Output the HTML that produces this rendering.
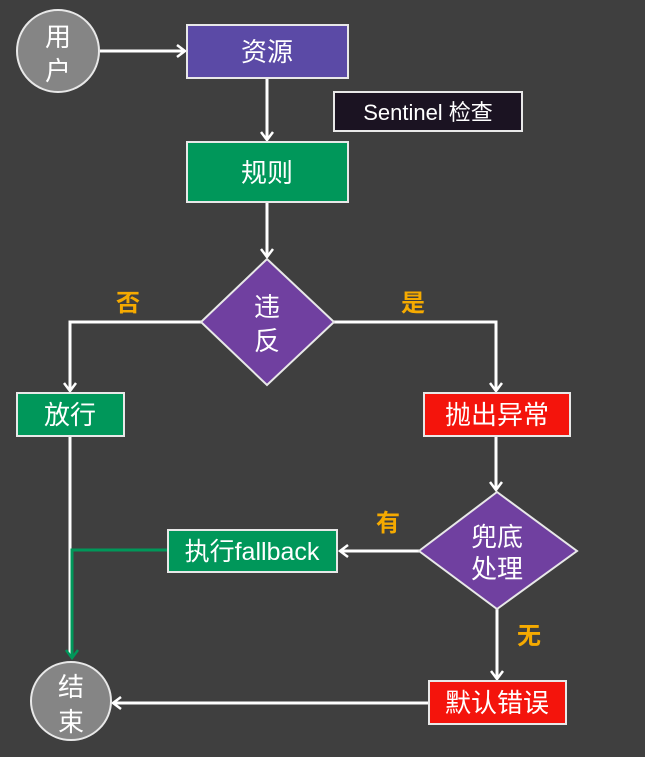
<!DOCTYPE html>
<html><head><meta charset="utf-8"><style>
body{margin:0;background:#3f3f3f;width:645px;height:757px;overflow:hidden}
svg{display:block}
text{font-family:"Liberation Sans","Noto Sans CJK SC",sans-serif;fill:#fff}
</style></head><body>
<svg width="645" height="757" viewBox="0 0 645 757">
<defs>
<marker id="a" markerWidth="14" markerHeight="14" refX="10" refY="7" orient="auto" markerUnits="userSpaceOnUse"><path d="M2,1 L10,7 L2,13" fill="none" stroke="#fff" stroke-width="2.5"/></marker>
<marker id="g" markerWidth="14" markerHeight="14" refX="10" refY="7" orient="auto" markerUnits="userSpaceOnUse"><path d="M2,1 L10,7 L2,13" fill="none" stroke="#00975a" stroke-width="2.5"/></marker>
</defs>
<rect width="645" height="757" fill="#3f3f3f"/>
<g stroke="#fff" stroke-width="3" fill="none">
<line x1="100" y1="51" x2="185" y2="51" marker-end="url(#a)"/>
<line x1="267" y1="78" x2="267" y2="140" marker-end="url(#a)"/>
<line x1="267" y1="202" x2="267" y2="257" marker-end="url(#a)"/>
<polyline points="201,322 70,322 70,391" marker-end="url(#a)"/>
<polyline points="334,322 496,322 496,391" marker-end="url(#a)"/>
<line x1="496" y1="436" x2="496" y2="490" marker-end="url(#a)"/>
<line x1="419" y1="551" x2="340" y2="551" marker-end="url(#a)"/>
<line x1="497" y1="609" x2="497" y2="679" marker-end="url(#a)"/>
<line x1="429" y1="703" x2="113" y2="703" marker-end="url(#a)"/>
<line x1="70" y1="436" x2="70" y2="655"/>
</g>
<polyline points="168,550 72,550 72,658" fill="none" stroke="#00975a" stroke-width="3" marker-end="url(#g)"/>
<g stroke="#e8e8e8" stroke-width="2">
<ellipse cx="58" cy="51" rx="41" ry="41" fill="#858585"/>
<rect x="187" y="25" width="161" height="53" fill="#5b4aa6"/>
<rect x="334" y="92" width="188" height="39" fill="#1b1322"/>
<rect x="187" y="142" width="161" height="60" fill="#00975a"/>
<polygon points="267,259 334,322 267,385 201,322" fill="#7040a0"/>
<rect x="17" y="393" width="107" height="43" fill="#00975a"/>
<rect x="424" y="393" width="146" height="43" fill="#f4140c"/>
<polygon points="497,492 577,551 497,609 419,551" fill="#7040a0"/>
<rect x="168" y="530" width="169" height="42" fill="#00975a"/>
<rect x="429" y="681" width="137" height="43" fill="#f4140c"/>
<ellipse cx="71" cy="701" rx="40" ry="39" fill="#858585"/>
</g>
<g font-size="26" text-anchor="middle">
<text x="58" y="46">用</text><text x="58" y="80">户</text>
<text x="267" y="61">资源</text>
<text x="428" y="120" font-size="22">Sentinel 检查</text>
<text x="267" y="182">规则</text>
<text x="267" y="316">违</text><text x="267" y="350">反</text>
<text x="70" y="424">放行</text>
<text x="497" y="424">抛出异常</text>
<text x="497" y="546">兜底</text><text x="497" y="578">处理</text>
<text x="252" y="560" font-size="25">执行fallback</text>
<text x="497" y="712">默认错误</text>
<text x="71" y="696">结</text><text x="71" y="731">束</text>
</g>
<g font-size="24" font-weight="bold" text-anchor="middle">
<text x="128" y="311" style="fill:#f5aa00">否</text>
<text x="413" y="311" style="fill:#f5aa00">是</text>
<text x="388" y="531" style="fill:#f5aa00">有</text>
<text x="529" y="644" style="fill:#f5aa00">无</text>
</g>
</svg>
</body></html>
